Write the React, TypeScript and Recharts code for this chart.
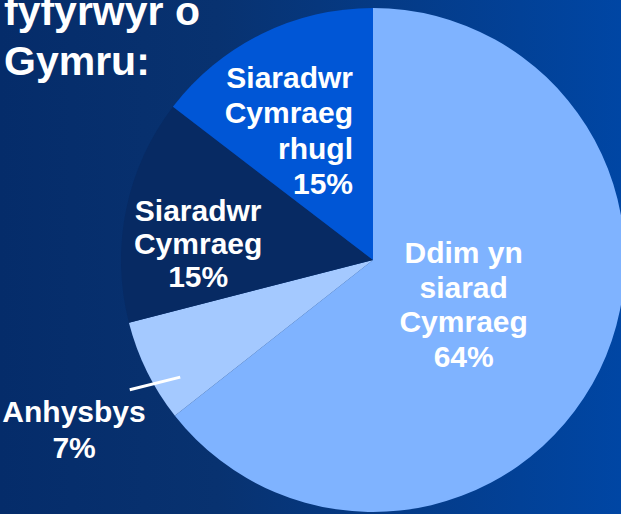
import React from 'react';
import { PieChart, Pie, Cell, Customized } from 'recharts';

const categories = ['Ddim yn siarad Cymraeg', 'Anhysbys', 'Siaradwr Cymraeg', 'Siaradwr Cymraeg rhugl'];
const values = [64.4, 6.6, 14.4, 14.6];
const percentLabels = ['64%', '7%', '15%', '15%'];
const labelLines = [['Ddim yn', 'siarad', 'Cymraeg'], ['Anhysbys'], ['Siaradwr', 'Cymraeg'], ['Siaradwr', 'Cymraeg', 'rhugl']];
const titleLines = ['fyfyrwyr o', 'Gymru:'];

const colors = ['#7fb3ff', '#a4c9ff', '#072a63', '#0056d6'];

const data = categories.map((name, i) => ({ name, value: values[i] }));

const W = 621;
const H = 514;
const FONT = '"Liberation Sans", Arial, Helvetica, sans-serif';
const RADIAN = Math.PI / 180;

// label layout: radial fraction along mid angle, offsets, anchor, line height
const layout = [
  { f: 0.4, dx: 0, dy: 0, anchor: 'middle', lh: 34.5 },
  { f: 1.323, dx: 0, dy: 22, anchor: 'middle', lh: 36 },
  { f: 0.7, dx: -2, dy: 19, anchor: 'middle', lh: 33 },
  { f: 0.6, dx: 47, dy: 6, anchor: 'end', lh: 35.5 },
];

const polar = (cx: number, cy: number, angle: number, r: number) => ({
  x: cx + Math.cos(-angle * RADIAN) * r,
  y: cy + Math.sin(-angle * RADIAN) * r,
});

const renderLabel = (props: any) => {
  const { cx, cy, midAngle, outerRadius, index } = props;
  const L = layout[index];
  const p = polar(cx, cy, midAngle, outerRadius * L.f);
  const x = p.x + L.dx;
  const yc = p.y + L.dy;
  const lines = [...labelLines[index], percentLabels[index]];
  const n = lines.length;
  const first = yc - ((n - 1) * L.lh) / 2 + 10.7;
  let leader = null;
  if (index === 1) {
    const a = polar(cx, cy, midAngle + 5, outerRadius * 0.895);
    const b = polar(cx, cy, midAngle + 1.8, outerRadius * 1.094);
    leader = <line x1={a.x} y1={a.y} x2={b.x} y2={b.y} stroke="#ffffff" strokeWidth={3} />;
  }
  return (
    <g key={`lbl-${index}`}>
      {leader}
      <text
        x={x}
        y={first}
        textAnchor={L.anchor}
        fill="#ffffff"
        fontFamily={FONT}
        fontWeight="bold"
        fontSize={30}
      >
        {lines.map((t, i) => (
          <tspan key={i} x={x} y={first + i * L.lh}>
            {t}
          </tspan>
        ))}
      </text>
    </g>
  );
};

const Title = () => (
  <text x={4} y={25} fill="#ffffff" fontFamily={FONT} fontWeight="bold" fontSize={41}>
    {titleLines.map((t, i) => (
      <tspan key={i} x={4} y={25 + i * 50}>
        {t}
      </tspan>
    ))}
  </text>
);

export default function App() {
  return (
    <div
      style={{
        position: 'absolute',
        left: 0,
        top: 0,
        width: W,
        height: H,
        overflow: 'hidden',
        background: 'linear-gradient(to right, #052c6a 0%, #083270 35%, #0046a4 100%)',
      }}
    >
      <PieChart width={W} height={H} margin={{ top: 0, right: 0, bottom: 0, left: 0 }}>
        <Pie
          data={data}
          dataKey="value"
          nameKey="name"
          cx={373}
          cy={260}
          innerRadius={0}
          outerRadius={252}
          startAngle={90}
          endAngle={-270}
          stroke="none"
          isAnimationActive={false}
          labelLine={false}
          label={renderLabel}
        >
          {data.map((d, i) => (
            <Cell key={d.name} fill={colors[i]} stroke="none" />
          ))}
        </Pie>
        <Customized component={Title} />
      </PieChart>
    </div>
  );
}
